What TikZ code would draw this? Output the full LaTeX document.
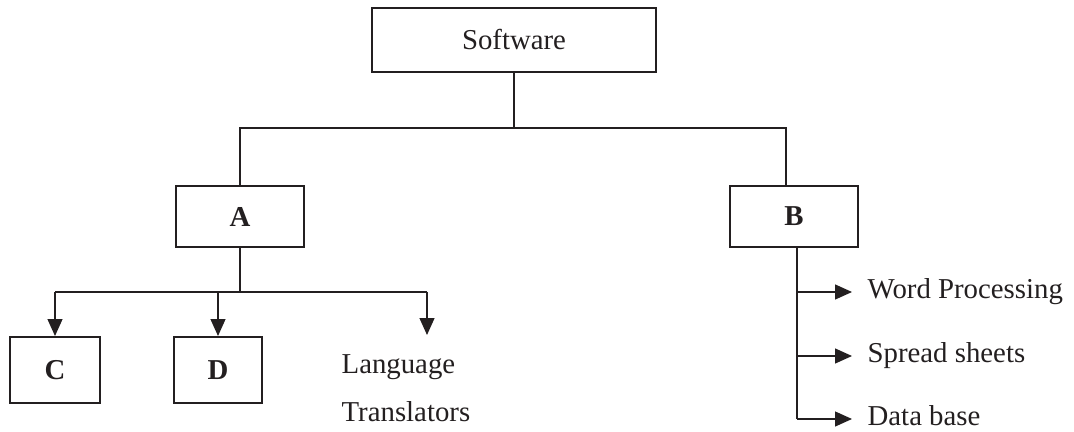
\documentclass[tikz,border=0pt]{standalone}
\usepackage{fontspec}
\setmainfont{Liberation Serif}
\usepackage{tikz}
\usetikzlibrary{arrows.meta}
\definecolor{ink}{HTML}{231F20}

\begin{document}
\begin{tikzpicture}[x=0.5pt,y=-0.5pt,>={Triangle[length=8.5pt,width=7.5pt]},
  draw=ink,line width=0.65pt,font=\fontsize{14.4}{24}\selectfont,
  main box/.style={rectangle,draw=ink,line width=1pt,text=ink},
  item/.style={anchor=west,inner xsep=7.5pt,inner ysep=0pt,text=ink,
    text height=0.66em,text depth=0pt}]

  \useasboundingbox (0,0) rectangle (1074,432);

  \node[main box,minimum width=142pt,minimum height=32pt] (soft) at (514,40) {Software};
  \node[main box,minimum width=64pt,minimum height=30.5pt,font=\fontsize{14.4}{24}\selectfont\bfseries] (A) at (240,216.5) {A};
  \node[main box,minimum width=64pt,minimum height=30.5pt,font=\fontsize{14.4}{24}\selectfont\bfseries] (B) at (794,216.5) {B};
  \node[main box,minimum width=45pt,minimum height=33pt,font=\fontsize{14.4}{24}\selectfont\bfseries] (C) at (55,370) {C};
  \node[main box,minimum width=44pt,minimum height=33pt,font=\fontsize{14.4}{24}\selectfont\bfseries] (D) at (218,370) {D};
  \node[anchor=north west,inner sep=0pt,align=left,text=ink] (lang) at (341,354) {Language\\Translators};

  \node[item] (word) at (852,292) {Word Processing};
  \node[item] (spread) at (852,356) {Spread sheets};
  \node[item] (data) at (852,419) {Data base};

  \coordinate (bus) at (514,128);
  \coordinate (bj) at (786,128);
  \coordinate (abus) at (240,292);
  \coordinate (langtip) at (427,335);
  \coordinate (bv) at (797,419);

  \draw (soft.south) -- (bus);
  \draw (A.north) |- (bj) -- (bj |- B.north);

  \draw (A.south) -- (abus);
  \draw (C.north |- abus) -- (langtip |- abus);
  \draw[->] (C.north |- abus) -- (C.north);
  \draw[->] (D.north |- abus) -- (D.north);
  \draw[->] (langtip |- abus) -- (langtip);

  \draw (bv |- B.south) -- (bv |- data.west);
  \draw[->] (bv |- word.west) -- (word.west);
  \draw[->] (bv |- spread.west) -- (spread.west);
  \draw[->] (bv |- data.west) -- (data.west);

\end{tikzpicture}
\end{document}
